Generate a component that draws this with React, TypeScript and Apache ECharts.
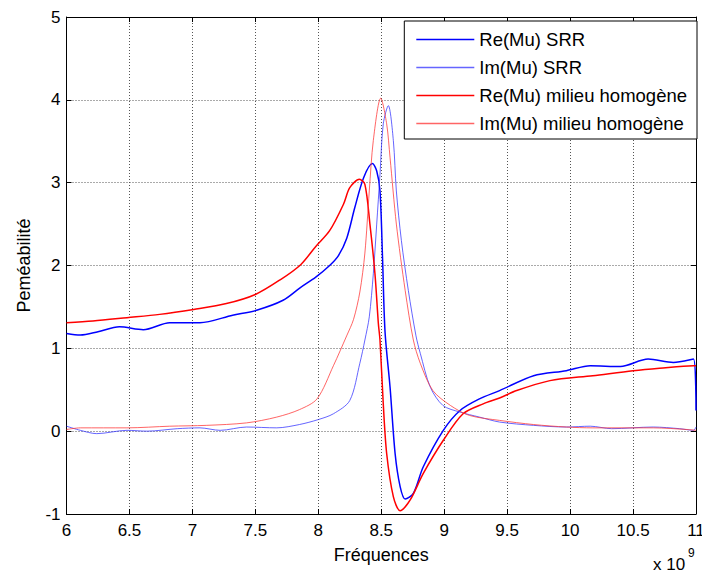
import React, { useEffect, useRef } from "react";
import * as echarts from "echarts";

const FONT = "'Liberation Sans', Arial, Helvetica, sans-serif";

const xTicks = [6, 6.5, 7, 7.5, 8, 8.5, 9, 9.5, 10, 10.5, 11];
const yTicks = [-1, 0, 1, 2, 3, 4, 5];

const seriesNames = [
  "Re(Mu) SRR",
  "Im(Mu) SRR",
  "Re(Mu) milieu homogène",
  "Im(Mu) milieu homogène",
];

// Re(Mu) SRR
const reSrrX = [6.0, 6.11, 6.25, 6.42, 6.61, 6.82, 7.06, 7.32, 7.51, 7.72, 7.855, 7.98, 8.09, 8.16, 8.226, 8.29, 8.36, 8.43, 8.464, 8.49, 8.51, 8.53, 8.57, 8.61, 8.65, 8.69, 8.755, 8.834, 8.993, 9.126, 9.28, 9.44, 9.71, 9.97, 10.16, 10.4, 10.62, 10.82, 10.98, 11.0];
const reSrrY = [1.18, 1.16, 1.2, 1.26, 1.225, 1.31, 1.31, 1.4, 1.46, 1.58, 1.73, 1.86, 2.0, 2.12, 2.33, 2.7, 3.06, 3.23, 3.14, 2.9, 2.1, 1.2, 0.53, -0.27, -0.67, -0.82, -0.75, -0.43, 0.01, 0.25, 0.39, 0.49, 0.67, 0.73, 0.79, 0.78, 0.87, 0.83, 0.87, 0.25];

// Im(Mu) SRR
const imSrrX = [6.0, 6.11, 6.24, 6.48, 6.64, 6.88, 7.06, 7.22, 7.43, 7.67, 7.85, 8.0, 8.12, 8.25, 8.33, 8.37, 8.405, 8.437, 8.464, 8.49, 8.516, 8.556, 8.596, 8.62, 8.66, 8.715, 8.776, 8.81, 8.89, 8.99, 9.126, 9.28, 9.44, 9.71, 9.97, 10.16, 10.33, 10.66, 10.87, 10.98, 11.0];
const imSrrY = [0.06, 0.01, -0.03, 0.01, 0.0, 0.03, 0.04, 0.01, 0.05, 0.04, 0.08, 0.14, 0.21, 0.37, 0.82, 1.1, 1.38, 1.9, 2.5, 3.1, 3.71, 3.93, 3.51, 2.9, 2.3, 1.7, 1.15, 0.94, 0.53, 0.31, 0.23, 0.17, 0.11, 0.07, 0.05, 0.06, 0.03, 0.05, 0.03, 0.01, 0.05];

// Re(Mu) milieu homogène
const reHomX = [6.0, 6.21, 6.48, 6.74, 7.01, 7.27, 7.5, 7.7, 7.86, 7.98, 8.09, 8.2, 8.25, 8.326, 8.37, 8.41, 8.45, 8.477, 8.49, 8.516, 8.543, 8.596, 8.65, 8.73, 8.834, 8.993, 9.15, 9.31, 9.44, 9.576, 9.84, 10.18, 10.5, 10.71, 10.98, 11.0];
const reHomY = [1.31, 1.33, 1.37, 1.41, 1.47, 1.54, 1.65, 1.83, 2.01, 2.23, 2.42, 2.74, 2.94, 3.04, 2.98, 2.5, 1.9, 1.3, 1.1, 0.33, -0.27, -0.79, -0.96, -0.83, -0.51, -0.11, 0.21, 0.33, 0.4, 0.49, 0.61, 0.67, 0.73, 0.76, 0.79, 0.79];

// Im(Mu) milieu homogène
const imHomX = [6.0, 6.11, 6.48, 6.82, 7.11, 7.43, 7.67, 7.85, 7.99, 8.12, 8.225, 8.28, 8.33, 8.37, 8.405, 8.437, 8.496, 8.543, 8.57, 8.62, 8.69, 8.755, 8.81, 8.91, 9.05, 9.2, 9.44, 9.71, 9.97, 10.18, 10.66, 10.93, 11.0];
const imHomY = [0.02, 0.04, 0.04, 0.06, 0.07, 0.1, 0.17, 0.26, 0.39, 0.79, 1.15, 1.35, 1.68, 2.15, 2.9, 3.51, 4.02, 3.71, 3.3, 2.5, 1.7, 1.1, 0.82, 0.49, 0.31, 0.19, 0.13, 0.08, 0.05, 0.04, 0.04, 0.02, 0.01];

const zip = (xs: number[], ys: number[]) => xs.map((x, i) => [x, ys[i]]);

export default function App() {
  const ref = useRef<HTMLDivElement>(null);
  useEffect(() => {
    if (!ref.current) return;
    const chart = echarts.init(ref.current, null, { renderer: "svg" });
    const axisLineStyle = { color: "#000", width: 1 };
    const splitStyle = { type: [1, 2] as any, color: "#555", width: 1 };
    const lineSeries = (name: string, data: number[][], color: string, width: number) => ({
      name,
      type: "line",
      data,
      symbol: "none",
      showSymbol: false,
      smooth: 0.3,
      lineStyle: { color, width },
      itemStyle: { color },
      silent: true,
    });
    chart.setOption({
      animation: false,
      backgroundColor: "#fff",
      grid: { left: 66.5, right: 6, top: 17, bottom: 60, containLabel: false, outerBoundsMode: "none" },
      legend: {
        orient: "vertical",
        right: 5,
        top: 21,
        backgroundColor: "#fff",
        borderColor: "#000",
        borderWidth: 1,
        borderRadius: 0,
        padding: [9, 10, 6, 12],
        icon: "rect",
        itemWidth: 58,
        itemHeight: 1.5,
        itemGap: 9,
        textStyle: { fontSize: 18.5, lineHeight: 18, fontFamily: FONT, color: "#000" },
        data: seriesNames,
      },
      xAxis: [
        {
          type: "value",
          min: xTicks[0],
          max: xTicks[xTicks.length - 1],
          interval: 0.5,
          position: "bottom",
          axisLine: { show: true, onZero: false, lineStyle: axisLineStyle },
          axisTick: { show: true, inside: true, length: 5, lineStyle: axisLineStyle },
          axisLabel: { fontSize: 17, fontFamily: FONT, color: "#000", margin: 8 },
          splitLine: { show: true, lineStyle: splitStyle },
          name: "Fréquences",
          nameLocation: "middle",
          nameGap: 32,
          nameTextStyle: { fontSize: 18, fontFamily: FONT, color: "#000" },
        },
        {
          type: "value",
          min: xTicks[0],
          max: xTicks[xTicks.length - 1],
          interval: 0.5,
          position: "top",
          axisLine: { show: true, onZero: false, lineStyle: axisLineStyle },
          axisTick: { show: true, inside: true, length: 5, lineStyle: axisLineStyle },
          axisLabel: { show: false },
          splitLine: { show: false },
        },
      ],
      yAxis: [
        {
          type: "value",
          min: yTicks[0],
          max: yTicks[yTicks.length - 1],
          interval: 1,
          position: "left",
          axisLine: { show: true, onZero: false, lineStyle: axisLineStyle },
          axisTick: { show: true, inside: true, length: 5, lineStyle: axisLineStyle },
          axisLabel: { fontSize: 17, fontFamily: FONT, color: "#000", margin: 6 },
          splitLine: { show: true, lineStyle: splitStyle },
          name: "Peméabilité",
          nameLocation: "middle",
          nameGap: 34,
          nameTextStyle: { fontSize: 18, fontFamily: FONT, color: "#000" },
        },
        {
          type: "value",
          min: yTicks[0],
          max: yTicks[yTicks.length - 1],
          interval: 1,
          position: "right",
          axisLine: { show: true, onZero: false, lineStyle: axisLineStyle },
          axisTick: { show: true, inside: true, length: 5, lineStyle: axisLineStyle },
          axisLabel: { show: false },
          splitLine: { show: false },
        },
      ],
      graphic: [
        {
          type: "text",
          left: 653,
          top: 556,
          style: { text: "x 10", fontSize: 17, fontFamily: FONT, fill: "#000" },
        },
        {
          type: "text",
          left: 688,
          top: 547,
          style: { text: "9", fontSize: 12, fontFamily: FONT, fill: "#000" },
        },
      ],
      series: [
        lineSeries(seriesNames[0], zip(reSrrX, reSrrY), "#0000ff", 1.5),
        lineSeries(seriesNames[1], zip(imSrrX, imSrrY), "rgba(50,50,255,0.75)", 1),
        lineSeries(seriesNames[2], zip(reHomX, reHomY), "#ff0000", 1.5),
        lineSeries(seriesNames[3], zip(imHomX, imHomY), "rgba(255,50,50,0.75)", 1),
      ],
    });
    return () => chart.dispose();
  }, []);
  return (
    <div
      ref={ref}
      style={{ position: "absolute", left: 0, top: 0, width: 702, height: 574, background: "#fff" }}
    />
  );
}
